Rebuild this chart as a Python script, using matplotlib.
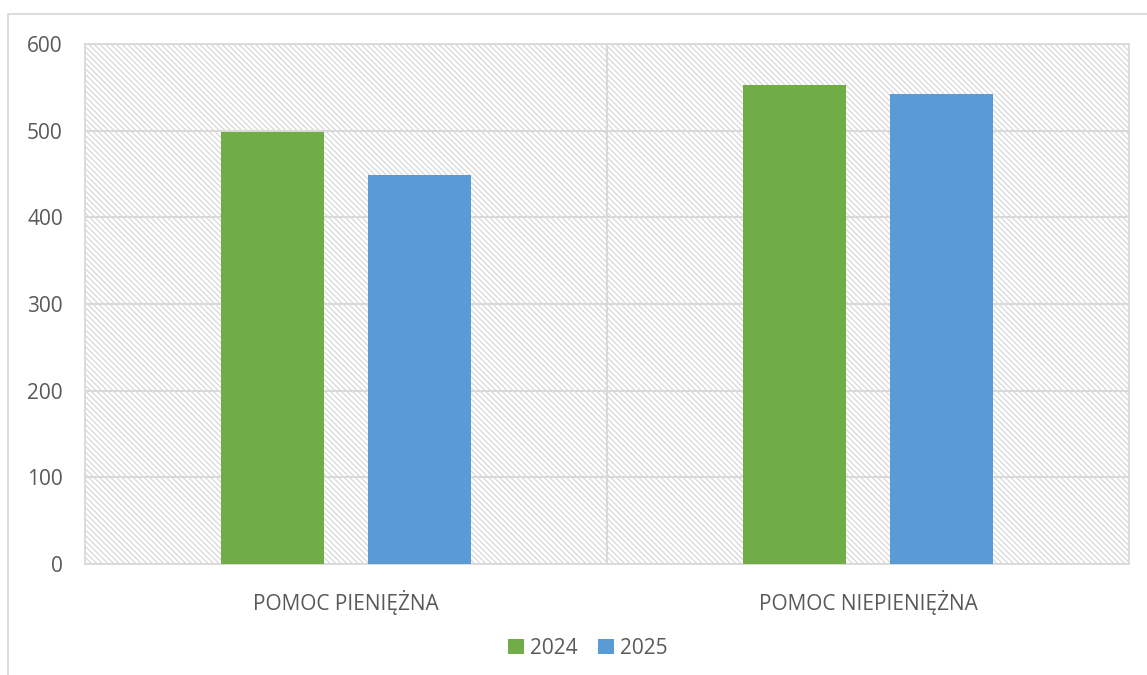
import numpy as np
import matplotlib.pyplot as plt
from matplotlib.patches import Rectangle

categories = ["POMOC PIENIĘŻNA", "POMOC NIEPIENIĘŻNA"]
values_2024 = [498, 553]
values_2025 = [449, 542]
series_names = ["2024", "2025"]
colors = ["#70AD47", "#5B9BD5"]

plt.rcParams['font.family'] = ['Open Sans', 'DejaVu Sans']
plt.rcParams['hatch.linewidth'] = 0.8

fig = plt.figure(figsize=(11.47, 6.75), dpi=100)
ax = fig.add_axes([85 / 1147, 111 / 675, 1044 / 1147, 520 / 675])

# outer chart frame
fig.patches.append(Rectangle((8 / 1147, -0.01), 1.02, (675 - 14) / 675 + 0.01,
                             transform=fig.transFigure, fill=False,
                             edgecolor="#d9d9d9", linewidth=1.3))

x = np.arange(len(categories))
w = 0.197
off = 0.141
ax.bar(x - off, values_2024, w, color=colors[0], label=series_names[0], zorder=3)
ax.bar(x + off, values_2025, w, color=colors[1], label=series_names[1], zorder=3)

ax.set_xlim(-0.5, 1.5)
ax.set_ylim(0, 600)
ax.set_yticks(range(0, 601, 100))
ax.set_xticks(x)
ax.set_xticklabels(categories)
ax.set_xticks([0.5], minor=True)

# hatched plot area
ax.patch.set_facecolor("white")
ax.patch.set_hatch("\\\\\\\\\\\\")
ax.patch.set_edgecolor("#d4d4d4")

ax.grid(axis="y", color="#d9d9d9", linewidth=1.5, zorder=1)
ax.grid(axis="x", which="minor", color="#d9d9d9", linewidth=1.5, zorder=1)
ax.set_axisbelow(True)

for s in ax.spines.values():
    s.set_color("#d9d9d9")
    s.set_linewidth(1.3)

ax.tick_params(axis="both", which="both", length=0, colors="#595959", labelsize=15)
ax.tick_params(axis="y", pad=16)
ax.tick_params(axis="x", pad=19)

ax.legend(loc="center", bbox_to_anchor=(588 / 1147, 27 / 675), bbox_transform=fig.transFigure,
          ncol=2, frameon=False, fontsize=15, handlelength=0.75, handleheight=0.75,
          handletextpad=0.3, columnspacing=1.0, labelcolor="#595959")

fig.savefig("out.png", dpi=100)
